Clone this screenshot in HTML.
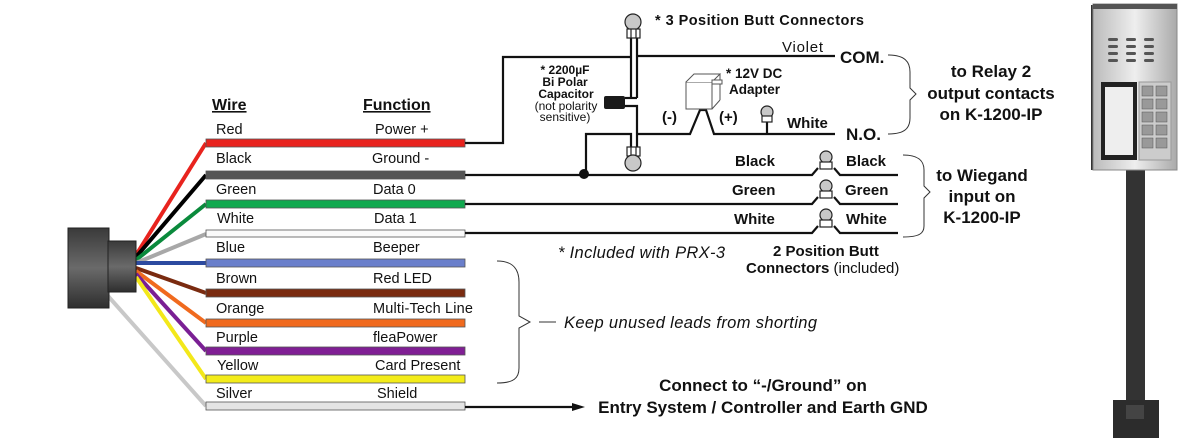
<!DOCTYPE html>
<html><head><meta charset="utf-8"><style>
html,body{margin:0;padding:0;background:#fff;}
svg{display:block;font-family:"Liberation Sans",Arial,sans-serif;}
</style></head><body>
<svg width="1178" height="448" viewBox="0 0 1178 448" xmlns="http://www.w3.org/2000/svg">
<defs>
<linearGradient id="cg" x1="0" y1="0" x2="0" y2="1"><stop offset="0" stop-color="#3a3a3a"/><stop offset="0.5" stop-color="#6a6a6a"/><stop offset="1" stop-color="#2e2e2e"/></linearGradient>
<linearGradient id="pg" x1="0" y1="0" x2="1" y2="0"><stop offset="0" stop-color="#bbb"/><stop offset="0.5" stop-color="#eee"/><stop offset="1" stop-color="#aaa"/></linearGradient>
</defs>
<g stroke-width="4" fill="none">
<line x1="136" y1="255" x2="206" y2="143" stroke="#e8231e"/>
<line x1="136" y1="257" x2="206" y2="175" stroke="#000"/>
<line x1="136" y1="260" x2="206" y2="204" stroke="#0a8a3c"/>
<line x1="136" y1="263" x2="206" y2="234" stroke="#a8a8a8"/>
<line x1="136" y1="263" x2="206" y2="263" stroke="#2c4aa0"/>
<line x1="136" y1="268" x2="206" y2="293" stroke="#7a2b10"/>
<line x1="136" y1="271" x2="206" y2="323" stroke="#f06a1e"/>
<line x1="136" y1="274" x2="206" y2="351" stroke="#7a1f94"/>
<line x1="136" y1="277" x2="206" y2="379" stroke="#f3e81a"/>
<line x1="108" y1="296" x2="206" y2="406" stroke="#c8c8c8"/>
</g>
<rect x="68" y="228" width="41" height="80" fill="url(#cg)" stroke="#222"/>
<rect x="108" y="241" width="28" height="51" fill="url(#cg)" stroke="#222"/>
<g stroke="#555" stroke-width="0.8">
<rect x="206" y="139" width="259" height="8" fill="#e8231e"/>
<rect x="206" y="171" width="259" height="8" fill="#555"/>
<rect x="206" y="200" width="259" height="8" fill="#11a94f"/>
<rect x="206" y="230" width="259" height="7" fill="#fafafa"/>
<rect x="206" y="259" width="259" height="8" fill="#6a7fcb"/>
<rect x="206" y="289" width="259" height="8" fill="#7a2b10"/>
<rect x="206" y="319" width="259" height="8" fill="#f06a1e"/>
<rect x="206" y="347" width="259" height="8" fill="#801f94"/>
<rect x="206" y="375" width="259" height="8" fill="#f3ec1a"/>
<rect x="206" y="402" width="259" height="8" fill="#e4e4e4"/>
</g>
<g font-size="16" fill="#111" font-weight="bold" text-decoration="underline">
<text x="212" y="110">Wire</text><text x="363" y="110">Function</text>
</g>
<g font-size="14.5" fill="#111">
<text x="216" y="134">Red</text><text x="375" y="134">Power +</text>
<text x="216" y="163">Black</text><text x="372" y="163">Ground -</text>
<text x="216" y="194">Green</text><text x="373" y="194">Data 0</text>
<text x="217" y="223">White</text><text x="374" y="223">Data 1</text>
<text x="216" y="252">Blue</text><text x="373" y="252">Beeper</text>
<text x="216" y="283">Brown</text><text x="373" y="283">Red LED</text>
<text x="216" y="313">Orange</text><text x="373" y="313" textLength="100">Multi-Tech Line</text>
<text x="216" y="342">Purple</text><text x="373" y="342">fleaPower</text>
<text x="217" y="370">Yellow</text><text x="375" y="370">Card Present</text>
<text x="216" y="398">Silver</text><text x="377" y="398">Shield</text>
</g>
<g stroke="#111" stroke-width="2.2" fill="none">
<polyline points="465,143 503,143 503,57 631,57"/>
<line x1="631" y1="38" x2="631" y2="98"/>
<polyline points="637,38 637,56 835,56"/>
<line x1="625" y1="98" x2="631" y2="98"/>
<line x1="637" y1="57" x2="637" y2="98"/>
<line x1="631" y1="98" x2="637" y2="98"/>
<polyline points="625,106 637,106 637,148"/>
<polyline points="586,174 586,134 631,134 631,148"/>
<polyline points="637,134 690,134 700,110 706,110 714,134 835,134"/>
<line x1="767" y1="121" x2="767" y2="134"/>
<polyline points="465,175 812,175 818,168"/>
<polyline points="834,168 840,175 898,175"/>
<polyline points="465,204 812,204 818,197"/>
<polyline points="834,197 840,204 898,204"/>
<polyline points="465,233 812,233 818,226"/>
<polyline points="834,226 840,233 898,233"/>
<line x1="465" y1="407" x2="572" y2="407"/>
</g>
<polygon points="572,403 585,407 572,411" fill="#111"/>
<circle cx="584" cy="174" r="5" fill="#111"/>
<rect x="604" y="96" width="21" height="13" rx="2" fill="#1a1a1a"/>
<g stroke="#222" stroke-width="1.2">
<circle cx="633" cy="22" r="8" fill="#c8c8c8"/>
<rect x="627" y="29" width="13" height="9" fill="#fff"/>
<line x1="631" y1="29" x2="631" y2="38"/><line x1="636" y1="29" x2="636" y2="38"/>
<rect x="627" y="147" width="13" height="9" fill="#fff"/>
<line x1="631" y1="147" x2="631" y2="156"/><line x1="636" y1="147" x2="636" y2="156"/>
<circle cx="633" cy="163" r="8" fill="#c8c8c8"/>
<circle cx="767" cy="112" r="6" fill="#c8c8c8"/>
<rect x="762" y="116" width="10" height="6" fill="#fff"/>
<circle cx="826" cy="157" r="6" fill="#c8c8c8"/><rect x="820" y="162" width="12" height="7" fill="#fff"/>
<circle cx="826" cy="186" r="6" fill="#c8c8c8"/><rect x="820" y="191" width="12" height="7" fill="#fff"/>
<circle cx="826" cy="215" r="6" fill="#c8c8c8"/><rect x="820" y="220" width="12" height="7" fill="#fff"/>
</g>
<rect x="686" y="82" width="26" height="27" fill="#fff" stroke="#555"/>
<polyline points="686,82 694,74 720,74 712,82" fill="#fff" stroke="#555"/>
<line x1="720" y1="74" x2="720" y2="100" stroke="#555"/><line x1="712" y1="109" x2="720" y2="100" stroke="#555"/>
<rect x="712" y="80" width="10" height="4" fill="#fff" stroke="#555"/>
<g stroke="#333" stroke-width="1" fill="none">
<path d="M888,55 C905,55 910,62 910,72 L910,88 L916,94 L910,100 L910,118 C910,128 905,134 888,134"/>
<path d="M903,155 C920,155 924,162 924,170 L924,186 L930,192 L924,198 L924,226 C924,233 920,237 903,237"/>
<path d="M497,261 C514,261 519,270 519,282 L519,316 L530,322 L519,328 L519,368 C519,378 514,383 497,383"/>
<line x1="539" y1="322" x2="556" y2="322"/>
</g>
<g fill="#111">
<text x="655" y="25" font-size="14.5" font-weight="bold" textLength="209">* 3 Position Butt Connectors</text>
<text x="782" y="52" font-size="15" textLength="41">Violet</text>
<text x="840" y="63" font-size="17" font-weight="bold">COM.</text>
<text x="846" y="140" font-size="17" font-weight="bold">N.O.</text>
<text x="787" y="128" font-size="15" font-weight="bold">White</text>
<text x="662" y="122" font-size="15" font-weight="bold">(-)</text>
<text x="719" y="122" font-size="15" font-weight="bold">(+)</text>
<text x="726" y="78" font-size="13.5" font-weight="bold">* 12V DC</text>
<text x="729" y="94" font-size="13.5" font-weight="bold">Adapter</text>
<g font-size="12" text-anchor="middle">
<text x="565" y="74" font-weight="bold">* 2200µF</text>
<text x="565" y="86" font-weight="bold">Bi Polar</text>
<text x="566" y="98" font-weight="bold">Capacitor</text>
<text x="566" y="110">(not polarity</text>
<text x="565" y="121">sensitive)</text>
</g>
<g font-size="15" font-weight="bold">
<text x="735" y="166">Black</text><text x="846" y="166">Black</text>
<text x="732" y="195">Green</text><text x="845" y="195">Green</text>
<text x="734" y="224">White</text><text x="846" y="224">White</text>
</g>
<g font-size="17" font-weight="bold" text-anchor="middle">
<text x="991" y="77">to Relay 2</text>
<text x="991" y="99">output contacts</text>
<text x="991" y="120">on K-1200-IP</text>
<text x="982" y="181">to Wiegand</text>
<text x="982" y="202">input on</text>
<text x="982" y="223">K-1200-IP</text>
</g>
<text x="558" y="258" font-size="16.5" font-style="italic" textLength="167">* Included with PRX-3</text>
<text x="773" y="256" font-size="15" font-weight="bold">2 Position Butt</text>
<text x="746" y="273" font-size="15"><tspan font-weight="bold">Connectors</tspan> (included)</text>
<text x="564" y="328" font-size="16.5" font-style="italic" textLength="253">Keep unused leads from shorting</text>
<g font-size="17" font-weight="bold" text-anchor="middle">
<text x="763" y="391">Connect to “-/Ground” on</text>
<text x="763" y="413">Entry System / Controller and Earth GND</text>
</g>
</g>
<rect x="1126" y="168" width="19" height="250" fill="#333"/>
<rect x="1113" y="400" width="46" height="38" fill="#2c2c2c"/>
<rect x="1126" y="405" width="18" height="14" fill="#444"/>
<rect x="1091" y="5" width="8" height="165" fill="#333"/>
<rect x="1093" y="4" width="84" height="166" fill="url(#pg)" stroke="#888"/>
<rect x="1093" y="4" width="84" height="5" fill="#555"/>
<g fill="#555">
<rect x="1108" y="38" width="10" height="3" rx="1.5"/><rect x="1108" y="45" width="10" height="3" rx="1.5"/><rect x="1108" y="52" width="10" height="3" rx="1.5"/><rect x="1108" y="59" width="10" height="3" rx="1.5"/>
<rect x="1126" y="38" width="10" height="3" rx="1.5"/><rect x="1126" y="45" width="10" height="3" rx="1.5"/><rect x="1126" y="52" width="10" height="3" rx="1.5"/><rect x="1126" y="59" width="10" height="3" rx="1.5"/>
<rect x="1144" y="38" width="10" height="3" rx="1.5"/><rect x="1144" y="45" width="10" height="3" rx="1.5"/><rect x="1144" y="52" width="10" height="3" rx="1.5"/><rect x="1144" y="59" width="10" height="3" rx="1.5"/>
</g>
<rect x="1101" y="82" width="36" height="78" fill="#222"/>
<rect x="1105" y="87" width="28" height="68" fill="#eee"/>
<rect x="1139" y="82" width="32" height="78" fill="#ccc" stroke="#999"/>
<g fill="#999" stroke="#555" stroke-width="0.5">
<rect x="1142" y="86" width="11" height="10"/><rect x="1156" y="86" width="11" height="10"/>
<rect x="1142" y="99" width="11" height="10"/><rect x="1156" y="99" width="11" height="10"/>
<rect x="1142" y="112" width="11" height="10"/><rect x="1156" y="112" width="11" height="10"/>
<rect x="1142" y="125" width="11" height="10"/><rect x="1156" y="125" width="11" height="10"/>
<rect x="1142" y="138" width="11" height="10"/><rect x="1156" y="138" width="11" height="10"/>
</g>
</svg>
</body></html>
